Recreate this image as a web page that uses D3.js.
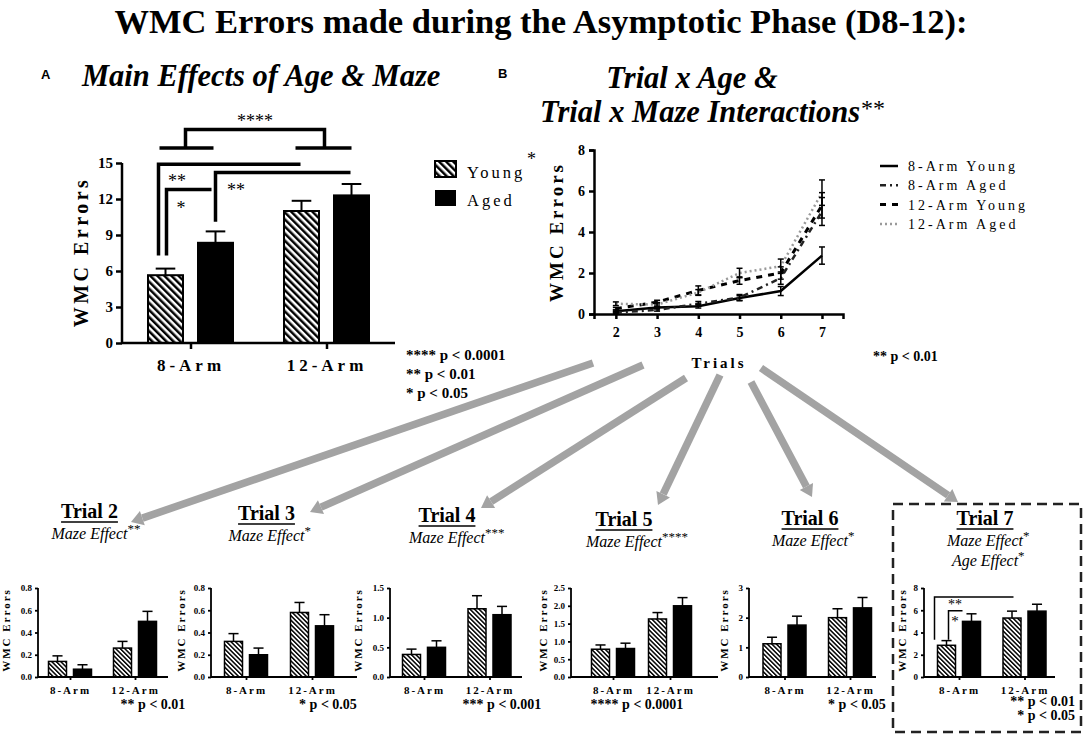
<!DOCTYPE html>
<html>
<head>
<meta charset="utf-8">
<script src="https://cdn.jsdelivr.net/npm/d3@7"></script>
<style>
  body { margin: 0; background: #fff; }
  text { font-family: "Liberation Serif", "Times New Roman", serif; }
</style>
</head>
<body>
<svg id="fig" width="1084" height="736"></svg>
<script>
// ---- data ----
var groups = ["8-Arm", "12-Arm"];
var ages = ["Young", "Aged"];

// panel A, order: 8-Arm Young, 8-Arm Aged, 12-Arm Young, 12-Arm Aged
var mainMeans = [5.65, 8.35, 11.0, 12.3];
var mainSem = [0.55, 0.95, 0.85, 0.95];
var mainTicks = [0, 3, 6, 9, 12, 15];
var mainNotes = ["**** p < 0.0001", "** p < 0.01", "* p < 0.05"];

// panel B + trial panels
var trials = [2, 3, 4, 5, 6, 7];
var seriesNames = ["8-Arm Young", "8-Arm Aged", "12-Arm Young", "12-Arm Aged"];
var eightYoung = [0.14, 0.32, 0.38, 0.78, 1.12, 2.85];
var eightYoungSem = [0.05, 0.07, 0.09, 0.12, 0.22, 0.42];
var eightAged = [0.07, 0.20, 0.50, 0.80, 1.75, 5.00];
var eightAgedSem = [0.04, 0.06, 0.11, 0.15, 0.30, 0.68];
var twelveYoung = [0.26, 0.58, 1.15, 1.63, 2.00, 5.30];
var twelveYoungSem = [0.06, 0.09, 0.22, 0.18, 0.30, 0.62];
var twelveAged = [0.50, 0.46, 1.05, 2.00, 2.33, 5.92];
var twelveAgedSem = [0.09, 0.10, 0.14, 0.23, 0.35, 0.62];
var lineTicks = [0, 2, 4, 6, 8];

var trialMax = [0.8, 0.8, 1.5, 2.5, 3, 8];
var trialStep = [0.2, 0.2, 0.5, 0.5, 1, 2];
var trialStars = ["**", "*", " ***", " ****", " *", " *"];
var trialNotes = [["** p < 0.01"], ["* p < 0.05"], ["*** p < 0.001"], ["**** p < 0.0001"], ["* p < 0.05"], ["** p < 0.01", "* p < 0.05"]];

// ---- layout ----
var svg = d3.select("#fig");
var defs = svg.append("defs");

function hatch(id, size, w) {
  var p = defs.append("pattern").attr("id", id)
    .attr("patternUnits", "userSpaceOnUse")
    .attr("width", size).attr("height", size)
    .attr("patternTransform", "rotate(-45)");
  p.append("rect").attr("width", size).attr("height", size).attr("fill", "#fff");
  p.append("rect").attr("width", w).attr("height", size).attr("fill", "#000");
}
hatch("hatchA", 5, 2.5);
hatch("hatchS", 3.2, 1.5);

function styleAxis(g, size, sw) {
  g.attr("font-size", size).attr("font-weight", "bold");
  g.selectAll("path, line").attr("stroke", "#000").attr("stroke-width", sw);
}

function label(x, y, txt, size, opts) {
  opts = opts || {};
  return svg.append("text").attr("x", x).attr("y", y)
    .attr("font-size", size)
    .attr("font-weight", opts.weight || "normal")
    .attr("font-style", opts.style || "normal")
    .attr("text-anchor", opts.anchor || "start")
    .attr("letter-spacing", opts.ls || 0)
    .attr("fill", "#000")
    .attr("transform", opts.rot ? "rotate(-90," + x + "," + y + ")" : null)
    .text(txt);
}

// grouped bar chart with up-only error bars
function bars(cfg) {
  var y = d3.scaleLinear().domain([0, cfg.max]).range([cfg.bottom, cfg.top]);
  var x = d3.scalePoint().domain(groups).range([cfg.c1, cfg.c2]);
  var inner = d3.scaleBand().domain(ages).range([-cfg.half, cfg.half]).paddingInner(cfg.pad);

  var items = [];
  groups.forEach(function (gname, gi) {
    ages.forEach(function (a, ai) {
      var k = gi * 2 + ai;
      items.push({ g: gname, a: a, v: cfg.means[k], e: cfg.sems[k] });
    });
  });

  var gB = svg.append("g");
  gB.selectAll("rect.bar").data(items).enter().append("rect")
    .attr("x", function (d) { return x(d.g) + inner(d.a); })
    .attr("y", function (d) { return y(d.v); })
    .attr("width", inner.bandwidth())
    .attr("height", function (d) { return y(0) - y(d.v); })
    .attr("fill", function (d) { return d.a === "Young" ? "url(#" + cfg.hatch + ")" : "#000"; })
    .attr("stroke", "#000").attr("stroke-width", cfg.sw);

  var cap = inner.bandwidth() * 0.28;
  items.forEach(function (d) {
    var cx = x(d.g) + inner(d.a) + inner.bandwidth() / 2;
    gB.append("line").attr("x1", cx).attr("x2", cx)
      .attr("y1", y(d.v)).attr("y2", y(d.v + d.e))
      .attr("stroke", "#000").attr("stroke-width", cfg.sw);
    gB.append("line").attr("x1", cx - cap).attr("x2", cx + cap)
      .attr("y1", y(d.v + d.e)).attr("y2", y(d.v + d.e))
      .attr("stroke", "#000").attr("stroke-width", cfg.sw);
  });

  var ax = svg.append("g").attr("transform", "translate(0," + cfg.bottom + ")")
    .call(d3.axisBottom(x).tickSizeOuter(0).tickSize(cfg.tick).tickPadding(cfg.xPad));
  ax.select(".domain").attr("d", "M" + cfg.left + ",0H" + cfg.right);
  styleAxis(ax, cfg.xFont, cfg.axW);
  ax.selectAll(".tick text").attr("letter-spacing", cfg.xLs);

  var ay = svg.append("g").attr("transform", "translate(" + cfg.left + ",0)")
    .call(d3.axisLeft(y).tickValues(cfg.ticks).tickFormat(cfg.fmt).tickSizeOuter(0).tickSize(cfg.tick).tickPadding(3));
  styleAxis(ay, cfg.yFont, cfg.axW);
  ay.select(".domain").attr("d", "M0," + cfg.bottom + "V" + cfg.top);

  var pos = {};
  items.forEach(function (d) { pos[d.g + d.a] = x(d.g) + inner(d.a) + inner.bandwidth() / 2; });
  return { x: x, y: y, pos: pos };
}

function bracket(pts, sw) {
  svg.append("path").attr("d", d3.line()(pts))
    .attr("fill", "none").attr("stroke", "#000").attr("stroke-width", sw);
}

function stars(x, cy, txt, size) {
  label(x, cy + size * 0.5, txt, size, { anchor: "middle" });
}

// ---- title ----
label(541, 33, "WMC Errors made during the Asymptotic Phase (D8-12):", 34.5, { weight: "bold", anchor: "middle" });

// ---- panel A ----
svg.append("text").attr("x", 41).attr("y", 79).style("font-family", "'Liberation Sans', Arial, sans-serif")
  .attr("font-size", 13).attr("font-weight", "bold").text("A");
label(82, 86, "Main Effects of Age & Maze", 30.5, { weight: "bold", style: "italic" });

var A = bars({
  means: mainMeans, sems: mainSem, max: 15, ticks: mainTicks, fmt: d3.format("d"),
  top: 163, bottom: 343, left: 122, right: 395, c1: 190.5, c2: 326.5,
  half: 42.5, pad: 0.3, hatch: "hatchA", sw: 2, axW: 2.5, tick: 6, xPad: 10,
  xFont: 17, yFont: 15, xLs: 4
});
label(88, 252, "WMC Errors", 20, { weight: "bold", anchor: "middle", ls: 3.5, rot: true });

var yA = A.y, p = A.pos;
bracket([[p["8-ArmYoung"] - 7, yA(7.3)], [p["8-ArmYoung"] - 7, yA(14.9)], [p["12-ArmYoung"] - 1, yA(14.9)]], 3.5);
bracket([[p["8-ArmYoung"] + 1, yA(7.3)], [p["8-ArmYoung"] + 1, yA(12.8)], [p["8-ArmAged"] - 4, yA(12.8)]], 3.5);
bracket([[p["8-ArmAged"], yA(10.1)], [p["8-ArmAged"], yA(14.2)], [p["12-ArmAged"] - 1, yA(14.2)]], 3.5);
var g8 = A.x("8-Arm"), g12 = A.x("12-Arm");
bracket([[g8 - 31, yA(16.25)], [g8 + 23, yA(16.25)]], 3.5);
bracket([[g12 - 31, yA(16.25)], [g12 + 25, yA(16.25)]], 3.5);
bracket([[g8 - 5, yA(16.25)], [g8 - 5, yA(17.8)], [g12 - 2, yA(17.8)], [g12 - 2, yA(16.25)]], 3.5);
stars(255, 118, "****", 18);
stars(177, 178, "**", 18);
stars(181, 205, "*", 18);
stars(236, 187, "**", 18);

// legend A
svg.append("rect").attr("x", 435).attr("y", 161).attr("width", 21).attr("height", 16)
  .attr("fill", "url(#hatchA)").attr("stroke", "#000").attr("stroke-width", 2);
svg.append("rect").attr("x", 435).attr("y", 190).attr("width", 21).attr("height", 16).attr("fill", "#000");
label(467, 178, ages[0], 16.5, { ls: 3 });
label(467, 206, ages[1], 16.5, { ls: 3 });
label(527, 165, "*", 18, {});
mainNotes.forEach(function (t, i) {
  label(406, 360 + i * 19, t, 15, { weight: "bold" });
});

// ---- panel B ----
svg.append("text").attr("x", 498).attr("y", 78).style("font-family", "'Liberation Sans', Arial, sans-serif")
  .attr("font-size", 13).attr("font-weight", "bold").text("B");
label(692, 88, "Trial x Age &", 30.5, { weight: "bold", style: "italic", anchor: "middle" });
label(540, 122, "Trial x Maze Interactions", 30.5, { weight: "bold", style: "italic" });
label(861, 116, "**", 24, {});

var xB = d3.scaleLinear().domain([1.47, 7.51]).range([594, 843]);
var yB = d3.scaleLinear().domain([0, 8]).range([314, 150]);

var series = [
  { name: seriesNames[0], v: eightYoung, e: eightYoungSem, color: "#000", w: 2.5, dash: null },
  { name: seriesNames[1], v: eightAged, e: eightAgedSem, color: "#222", w: 2.5, dash: "6,4,2,4" },
  { name: seriesNames[2], v: twelveYoung, e: twelveYoungSem, color: "#000", w: 3, dash: "6,6" },
  { name: seriesNames[3], v: twelveAged, e: twelveAgedSem, color: "#9a9a9a", w: 2.5, dash: "2,3" }
];
var line = d3.line().x(function (d, i) { return xB(trials[i]); }).y(function (d) { return yB(d); });

var gL = svg.append("g");
series.forEach(function (s) {
  gL.append("path").attr("d", line(s.v)).attr("fill", "none")
    .attr("stroke", s.color).attr("stroke-width", s.w).attr("stroke-dasharray", s.dash);
});
series.forEach(function (s) {
  s.v.forEach(function (v, i) {
    var cx = xB(trials[i]);
    gL.append("line").attr("x1", cx).attr("x2", cx).attr("y1", yB(v - s.e[i])).attr("y2", yB(v + s.e[i]))
      .attr("stroke", "#000").attr("stroke-width", 1.5);
    [v - s.e[i], v + s.e[i]].forEach(function (ev) {
      gL.append("line").attr("x1", cx - 3).attr("x2", cx + 3).attr("y1", yB(ev)).attr("y2", yB(ev))
        .attr("stroke", "#000").attr("stroke-width", 1.5);
    });
  });
});

var axB = svg.append("g").attr("transform", "translate(0,314)")
  .call(d3.axisBottom(xB).tickValues(trials).tickFormat(d3.format("d")).tickSizeOuter(0).tickSize(5).tickPadding(8));
styleAxis(axB, 14, 2.5);
var ayB = svg.append("g").attr("transform", "translate(594,0)")
  .call(d3.axisLeft(yB).tickValues(lineTicks).tickSizeOuter(0).tickSize(5).tickPadding(4));
styleAxis(ayB, 14, 2.5);
label(563, 232, "WMC Errors", 19, { weight: "bold", anchor: "middle", ls: 3, rot: true });
label(719, 368, "Trials", 15, { weight: "bold", anchor: "middle", ls: 3 });
label(873, 361, "** p < 0.01", 14, { weight: "bold" });

// legend B
series.forEach(function (s, i) {
  var ly = 166 + i * 19.3;
  svg.append("line").attr("x1", 880).attr("x2", 898).attr("y1", ly).attr("y2", ly)
    .attr("stroke", s.color).attr("stroke-width", s.w).attr("stroke-dasharray", s.dash);
  label(908, ly + 5, s.name, 14, { ls: 3 });
});

// ---- arrows from "Trials" to each trial panel ----
var arrows = [[593, 363, 131, 522], [643, 365, 310, 512], [686, 378, 481, 508],
              [720, 375, 658, 505], [751, 382, 812, 497], [761, 368, 958, 502]];
arrows.forEach(function (a) {
  var dx = a[2] - a[0], dy = a[3] - a[1], L = Math.hypot(dx, dy);
  var ux = dx / L, uy = dy / L, hl = 12, hw = 7.5;
  var bx = a[2] - ux * hl, by = a[3] - uy * hl;
  svg.append("line").attr("x1", a[0]).attr("y1", a[1]).attr("x2", bx).attr("y2", by)
    .attr("stroke", "#a3a3a3").attr("stroke-width", 7.5);
  svg.append("polygon").attr("fill", "#a3a3a3")
    .attr("points", [[a[2], a[3]], [bx - uy * hw, by + ux * hw], [bx + uy * hw, by - ux * hw]].join(" "));
});

// ---- trial panels ----
var allMeans = [eightYoung, eightAged, twelveYoung, twelveAged];
var allSem = [eightYoungSem, eightAgedSem, twelveYoungSem, twelveAgedSem];
var panelCenter = [89.5, 266.5, 447, 624, 810, 985];
var titleBase = [518, 520, 522, 526, 525, 525];
var axLeft = [38, 211, 390, 571, 749, 924];
var axRight = [168, 357, 522, 718, 876, 1055];
var grpC = [[70, 135], [246, 312], [424, 489.5], [613, 670], [784.5, 850], [959, 1024.5]];
var yLabOff = [28, 26, 28, 24, 21, 18];
var noteX = [153, 328, 502, 637, 857, 1075];

trials.forEach(function (t, i) {
  var c = panelCenter[i], tb = titleBase[i];
  var tt = label(c, tb, "Trial " + t, 20, { weight: "bold", anchor: "middle" });
  var tw = tt.node().getComputedTextLength();
  svg.append("line").attr("x1", c - tw / 2).attr("x2", c + tw / 2).attr("y1", tb + 4).attr("y2", tb + 4)
    .attr("stroke", "#000").attr("stroke-width", 1.5);

  var me = label(c, tb + 21, "Maze Effect", 16, { style: "italic", anchor: "middle" });
  var mw = me.node().getComputedTextLength();
  label(c + mw / 2, tb + 15, trialStars[i], 13, {});
  if (t === 7) {
    var ae = label(c, tb + 41, "Age Effect", 16, { style: "italic", anchor: "middle" });
    label(c + ae.node().getComputedTextLength() / 2, tb + 35, " *", 13, {});
  }

  var means = allMeans.map(function (s) { return s[i]; });
  var sems = allSem.map(function (s) { return s[i]; });
  var dec = trialStep[i] < 1 ? d3.format(".1f") : d3.format("d");
  var B = bars({
    means: means, sems: sems, max: trialMax[i], ticks: d3.range(0, trialMax[i] + trialStep[i] / 2, trialStep[i]), fmt: dec,
    top: 588, bottom: 677, left: axLeft[i], right: axRight[i], c1: grpC[i][0], c2: grpC[i][1],
    half: 21.5, pad: 0.28, hatch: "hatchS", sw: 1.5, axW: 1.8, tick: 3, xPad: 6,
    xFont: 11, yFont: 9, xLs: 2
  });
  label(axLeft[i] - yLabOff[i], 630, "WMC Errors", 11, { weight: "bold", anchor: "middle", ls: 2, rot: true });

  var notes = trialNotes[i];
  notes.forEach(function (n, k) {
    if (notes.length > 1) label(noteX[i], 706 + k * 14, n, 14, { weight: "bold", anchor: "end" });
    else label(noteX[i], 709, n, 14, { weight: "bold", anchor: "middle" });
  });

  if (t === 7) {
    var y7 = B.y, q = B.pos;
    bracket([[q["8-ArmYoung"] - 12, y7(3.35)], [q["8-ArmYoung"] - 12, y7(7.2)], [q["12-ArmYoung"] + 1.5, y7(7.2)]], 1.5);
    bracket([[q["8-ArmYoung"] + 2, y7(3.35)], [q["8-ArmYoung"] + 2, y7(5.95)], [q["8-ArmAged"] - 9, y7(5.95)]], 1.5);
    stars(955, 602, "**", 14);
    stars(955, 618, "*", 15);
  }
});

// dashed frame round the trial 7 panel
svg.append("rect").attr("x", 893).attr("y", 504).attr("width", 188).attr("height", 228)
  .attr("fill", "none").attr("stroke", "#222").attr("stroke-width", 2.5).attr("stroke-dasharray", "10,6");
</script>
</body>
</html>
